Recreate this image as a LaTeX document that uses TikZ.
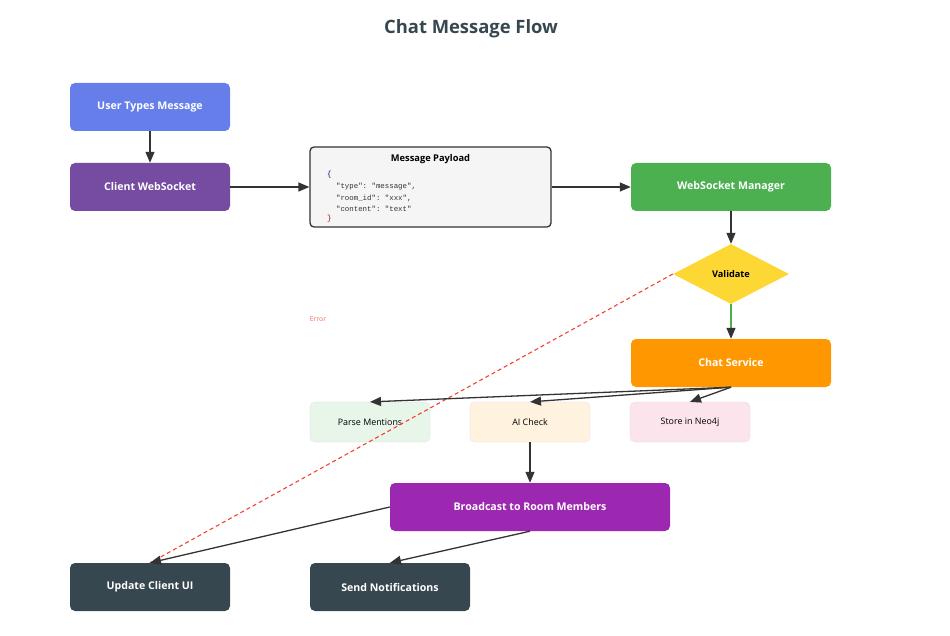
\documentclass[tikz,border=0pt]{standalone}
\usepackage{fontspec}
\setmainfont{Open Sans}
\setmonofont{Liberation Mono}
\usepackage{xcolor}
\usepackage{tikz}
\usetikzlibrary{shapes.geometric, arrows.meta, positioning}

\definecolor{userblue}{HTML}{667EEA}
\definecolor{clientpurple}{HTML}{764BA2}
\definecolor{mgrgreen}{HTML}{4CAF50}
\definecolor{valyellow}{HTML}{FDD835}
\definecolor{chatorange}{HTML}{FF9800}
\definecolor{parsefill}{HTML}{E8F5E9}
\definecolor{aifill}{HTML}{FFF3E0}
\definecolor{storefill}{HTML}{FCE4EC}
\definecolor{bcastpurple}{HTML}{9C27B0}
\definecolor{slate}{HTML}{37474F}
\definecolor{edgegray}{HTML}{333333}
\definecolor{errred}{HTML}{F44336}

\begin{document}
\begin{tikzpicture}[
    x=1pt, y=-1pt,
    box/.style={rectangle, fill=#1, draw=none, rounded corners=5pt, minimum width=160pt, minimum height=48pt, align=center, text=white, font=\fontsize{10.6}{12}\selectfont\bfseries},
    subbox/.style={rectangle, fill=#1, draw=white!85!black, very thin, rounded corners=5pt, minimum width=120pt, minimum height=40pt, align=center, text=black, font=\fontsize{8.9}{10}\selectfont},
    payloadbox/.style={rectangle, fill=black!4, draw=edgegray, line width=1.3pt, rounded corners=4pt, minimum width=241pt, minimum height=80pt},
    decision/.style={diamond, fill=valyellow, draw=none, minimum width=116pt, minimum height=60pt, inner sep=0pt, font=\fontsize{9.2}{10}\selectfont\bfseries},
    conn/.style={draw=edgegray, line width=1.3pt, -{Triangle[length=11pt, width=9pt, color=edgegray]}},
    errconn/.style={draw=errred, line width=1.1pt, dashed, dash pattern=on 4pt off 3pt},
    lbl/.style={font=\fontsize{6.8}{8}\selectfont, text=errred!80}
]
    \useasboundingbox (0,0) rectangle (950,636);

    % Title
    \node (title) at (471,29) [font=\fontsize{18.4}{22}\selectfont\bfseries, text=slate] {Chat Message Flow};

    % Client side
    \node (user) at (150,107) [box=userblue] {User Types Message};
    \node (client) at (150,187) [box=clientpurple] {Client WebSocket};

    % Payload
    \node (payload) at (430.5,187) [payloadbox] {};
    \node (payloadtitle) at (430.5,159) [font=\fontsize{9.3}{10}\selectfont\bfseries] {Message Payload};
    \node (payloadcode) at (327,171) [anchor=north west, align=left, inner sep=0pt, text=edgegray, font=\ttfamily\fontsize{7.4}{11.8}\selectfont] {%
        \textcolor{blue!50!black}{\{}\\
        \ \ "type": "message",\\
        \ \ "room\_id": "xxx",\\
        \ \ "content": "text"\\[-2.8pt]
        \textcolor{red!60!black}{\}}};

    % Server side
    \node (manager) at (731,187) [box=mgrgreen, minimum width=200pt] {WebSocket Manager};
    \node (validate) at (731,274) [decision] {Validate};
    \node (chat) at (731,363) [box=chatorange, minimum width=200pt] {Chat Service};

    % Processing
    \node (parse) at (370,422) [subbox=parsefill] {Parse Mentions};
    \node (aicheck) at (530,422) [subbox=aifill] {AI Check};
    \node (store) at (690,422) [subbox=storefill] {Store in Neo4j};

    % Delivery
    \node (broadcast) at (530,507) [box=bcastpurple, minimum width=280pt] {Broadcast to Room Members};
    \node (updateui) at (150,587) [box=slate] {Update Client UI};
    \node (notify) at (390,587) [box=slate] {Send Notifications};

    % Connections
    \draw [conn] (user.south) -- (client.north);
    \draw [conn] (client.east) -- (payload.west);
    \draw [conn] (payload.east) -- (manager.west);
    \draw [conn] (manager.south) -- (validate.north);
    \draw [conn, draw=mgrgreen] (validate.south) -- (chat.north);
    \draw [errconn] (validate.west) -- (updateui.north);
    \node (errlbl) at (318,319) [lbl] {Error};

    \draw [conn] (chat.south) -- (parse.north);
    \draw [conn] (chat.south) -- (aicheck.north);
    \draw [conn] (chat.south) -- (store.north);
    \draw [conn] (aicheck.south) -- (broadcast.north);
    \draw [conn] (broadcast.west) -- (updateui.north);
    \draw [conn] (broadcast.south) -- (notify.north);

\end{tikzpicture}
\end{document}
